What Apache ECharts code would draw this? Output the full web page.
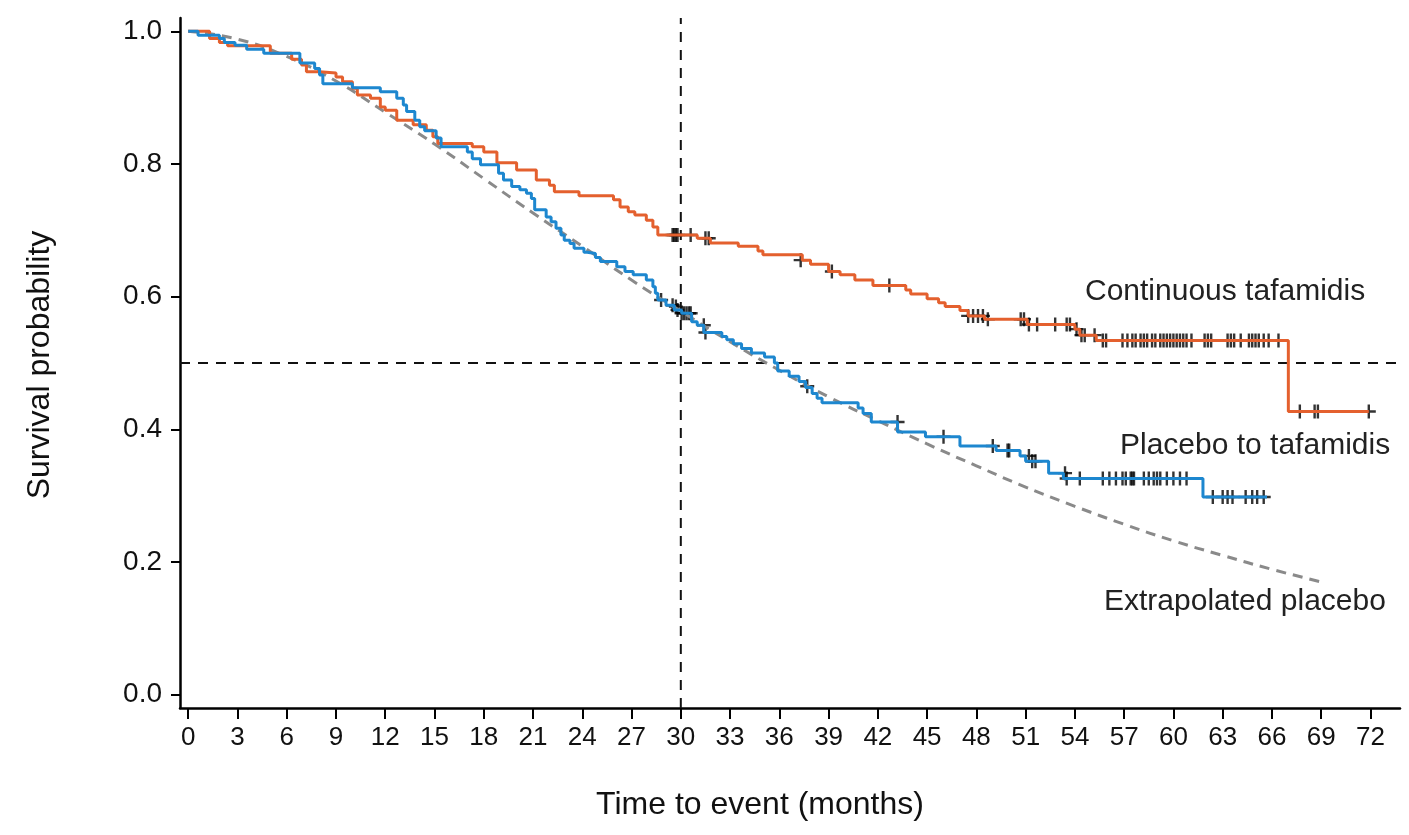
<!DOCTYPE html>
<html>
<head>
<meta charset="utf-8">
<title>Survival probability</title>
<script src="https://cdn.jsdelivr.net/npm/echarts@6/dist/echarts.min.js"></script>
<style>
  html, body { margin: 0; padding: 0; background: #fff; }
  #chart { width: 1409px; height: 835px; }
</style>
</head>
<body>
<div id="chart"></div>
<script>
// tick labels
const timeTicks = [0, 3, 6, 9, 12, 15, 18, 21, 24, 27, 30, 33, 36, 39, 42, 45, 48, 51, 54, 57, 60, 63, 66, 69, 72]
const probTicks = [0, 0.2, 0.4, 0.6, 0.8, 1.0]

// Kaplan-Meier steps [months, survival after event]
const continuousSteps = [
  [0, 1.0], [1.3, 0.989], [1.9, 0.983], [2.4, 0.978], [5.0, 0.967], [6.3, 0.958], [6.9, 0.949],
  [7.2, 0.939], [8.0, 0.937], [9.0, 0.931], [9.4, 0.924], [10.0, 0.914], [10.3, 0.904],
  [11.1, 0.899], [11.7, 0.886], [12.0, 0.881], [12.7, 0.866], [13.7, 0.859], [14.5, 0.851],
  [14.9, 0.841], [15.2, 0.831], [17.3, 0.826], [18.0, 0.818], [18.8, 0.802], [20.0, 0.791],
  [21.2, 0.776], [22.0, 0.768], [22.3, 0.758], [23.8, 0.752], [25.9, 0.746], [26.3, 0.735],
  [26.8, 0.728], [27.2, 0.723], [27.9, 0.715], [28.3, 0.705], [28.6, 0.693], [31.0, 0.688],
  [31.8, 0.681], [33.5, 0.676], [34.7, 0.669], [35.0, 0.663], [37.4, 0.655], [37.9, 0.649],
  [39.0, 0.638], [39.7, 0.633], [40.6, 0.625], [41.7, 0.617], [43.7, 0.610], [44.0, 0.604],
  [45.0, 0.597], [45.7, 0.591], [46.1, 0.585], [47.0, 0.579], [47.5, 0.571], [48.5, 0.566],
  [51.1, 0.558], [54.0, 0.551], [54.3, 0.542], [55.3, 0.534], [67.0, 0.427], [71.9, 0.427]
]
const placeboSteps = [
  [0, 1.0], [0.6, 0.994], [1.9, 0.989], [2.2, 0.983], [2.85, 0.979], [3.56, 0.973], [4.6, 0.967],
  [6.8, 0.952], [7.7, 0.944], [8.0, 0.934], [8.2, 0.921], [10.0, 0.915], [11.7, 0.909],
  [12.7, 0.899], [13.1, 0.889], [13.3, 0.879], [13.8, 0.866], [14.1, 0.856], [14.4, 0.850],
  [15.1, 0.839], [15.4, 0.826], [17.0, 0.818], [17.3, 0.808], [17.8, 0.799], [18.9, 0.786],
  [19.2, 0.776], [19.7, 0.766], [20.2, 0.761], [20.6, 0.756], [20.9, 0.748], [21.1, 0.731],
  [21.8, 0.720], [22.1, 0.713], [22.4, 0.703], [22.7, 0.693], [22.9, 0.685], [23.25, 0.680],
  [23.5, 0.673], [24.1, 0.667], [24.3, 0.665], [24.8, 0.659], [25.1, 0.653], [26.1, 0.645],
  [26.6, 0.638], [27.1, 0.633], [27.9, 0.625], [28.3, 0.615], [28.45, 0.605], [28.6, 0.595],
  [29.1, 0.587], [29.6, 0.580], [30.05, 0.575], [30.66, 0.562], [31.0, 0.557], [31.4, 0.546],
  [32.5, 0.540], [32.8, 0.535], [33.2, 0.529], [33.7, 0.522], [34.3, 0.515], [35.1, 0.509],
  [35.7, 0.500], [35.9, 0.488], [36.6, 0.480], [37.2, 0.472], [37.6, 0.463], [38.0, 0.454],
  [38.3, 0.447], [38.6, 0.440], [40.8, 0.432], [41.1, 0.424], [41.6, 0.411], [43.2, 0.396],
  [44.9, 0.389], [47.0, 0.375], [49.2, 0.368], [50.66, 0.360], [51.0, 0.352], [52.4, 0.334],
  [53.3, 0.326], [61.8, 0.298], [65.7, 0.298]
]

// censored observations
const continuousCensored = [
  [29.5, 0.693], [29.6, 0.693], [29.7, 0.693], [29.8, 0.693], [30.6, 0.693], [31.5, 0.688],
  [31.7, 0.688], [37.3, 0.655], [39.2, 0.638], [42.7, 0.617], [47.5, 0.571], [47.8, 0.571],
  [48.1, 0.571], [48.4, 0.571], [48.7, 0.566], [50.7, 0.566], [50.9, 0.566], [51.2, 0.558],
  [51.7, 0.558], [52.8, 0.558], [53.5, 0.558], [53.7, 0.558], [54.1, 0.551], [54.4, 0.542],
  [54.6, 0.542], [55.2, 0.542], [55.7, 0.534], [55.9, 0.534], [56.9, 0.534], [57.2, 0.534],
  [57.5, 0.534], [57.7, 0.534], [58.0, 0.534], [58.2, 0.534], [58.4, 0.534], [58.7, 0.534],
  [58.9, 0.534], [59.2, 0.534], [59.4, 0.534], [59.6, 0.534], [59.8, 0.534], [60.0, 0.534],
  [60.2, 0.534], [60.4, 0.534], [60.6, 0.534], [60.8, 0.534], [61.1, 0.534], [61.9, 0.534],
  [62.1, 0.534], [62.3, 0.534], [63.3, 0.534], [63.5, 0.534], [63.7, 0.534], [64.1, 0.534],
  [64.6, 0.534], [64.8, 0.534], [65.0, 0.534], [65.2, 0.534], [65.5, 0.534], [65.8, 0.534],
  [66.4, 0.534], [67.7, 0.427], [68.6, 0.427], [68.8, 0.427], [71.9, 0.427]
]
const placeboCensored = [
  [28.8, 0.595], [29.5, 0.587], [29.7, 0.585], [29.8, 0.580], [30.05, 0.575], [30.2, 0.575],
  [30.35, 0.575], [30.5, 0.575], [30.6, 0.575], [31.4, 0.557], [31.5, 0.546], [37.7, 0.465],
  [43.2, 0.411], [46.0, 0.389], [49.0, 0.375], [49.9, 0.368], [50.0, 0.368], [51.2, 0.360],
  [51.4, 0.352], [51.6, 0.352], [53.4, 0.334], [53.5, 0.326], [54.3, 0.326], [55.7, 0.326],
  [56.1, 0.326], [56.5, 0.326], [56.9, 0.326], [57.1, 0.326], [57.4, 0.326], [57.5, 0.326],
  [57.6, 0.326], [58.2, 0.326], [58.5, 0.326], [58.8, 0.326], [59.0, 0.326], [59.2, 0.326],
  [59.6, 0.326], [60.0, 0.326], [60.4, 0.326], [60.8, 0.326], [62.4, 0.298], [63.0, 0.298],
  [63.3, 0.298], [63.6, 0.298], [64.4, 0.298], [64.8, 0.298], [65.1, 0.298], [65.5, 0.298]
]

// extrapolated placebo curve, read every 3 months
const extrapolated = [
  [0, 1.0], [3, 0.988], [6, 0.962], [9, 0.925], [12, 0.878], [15, 0.830], [18, 0.778],
  [21, 0.726], [24, 0.676], [27, 0.625], [30, 0.578], [33, 0.532], [36, 0.489], [39, 0.449],
  [42, 0.413], [45, 0.378], [48, 0.345], [51, 0.313], [54, 0.284], [57, 0.257], [60, 0.232],
  [63, 0.210], [66, 0.189], [69, 0.170]
]

const medianLevel = 0.5
const landmarkTime = 30

const FONT = '"Liberation Sans", Arial, Helvetica, sans-serif'
const ORANGE = '#e4602e'
const BLUE = '#1d87cf'
const CROSS = 'path://M-1.2,-7H1.2V-1.2H7V1.2H1.2V7H-1.2V1.2H-7V-1.2H-1.2Z'

const chart = echarts.init(document.getElementById('chart'), null, { renderer: 'canvas' })

chart.setOption({
  animation: false,
  backgroundColor: '#fff',
  grid: { left: 180, right: 9, top: 18, bottom: 127 },
  xAxis: {
    type: 'value',
    min: -0.5,
    max: 73.8,
    axisLine: { onZero: false, lineStyle: { color: '#000', width: 2.5 } },
    axisTick: { customValues: timeTicks, length: 11, lineStyle: { color: '#000', width: 2 } },
    axisLabel: { customValues: timeTicks, color: '#111', fontSize: 26, fontFamily: FONT, margin: 17 },
    splitLine: { show: false }
  },
  yAxis: {
    type: 'value',
    min: -0.02,
    max: 1.02,
    axisLine: { show: true, onZero: false, lineStyle: { color: '#000', width: 2.5 } },
    axisTick: { show: true, customValues: probTicks, length: 9, lineStyle: { color: '#000', width: 2 } },
    axisLabel: {
      customValues: probTicks, color: '#111', fontSize: 28, fontFamily: FONT, margin: 18,
      formatter: v => v.toFixed(1)
    },
    splitLine: { show: false }
  },
  graphic: [
    { type: 'text', x: 760, y: 805, style: { text: 'Time to event (months)', font: '32px ' + FONT, fill: '#111', align: 'center', verticalAlign: 'middle' } },
    { type: 'text', x: 40, y: 365, rotation: Math.PI / 2, style: { text: 'Survival probability', font: '32px ' + FONT, fill: '#111', align: 'center', verticalAlign: 'middle' } },
    { type: 'text', x: 1085, y: 292, style: { text: 'Continuous tafamidis', font: '30px ' + FONT, fill: '#222', verticalAlign: 'middle' } },
    { type: 'text', x: 1120, y: 446, style: { text: 'Placebo to tafamidis', font: '30px ' + FONT, fill: '#222', verticalAlign: 'middle' } },
    { type: 'text', x: 1104, y: 602, style: { text: 'Extrapolated placebo', font: '30px ' + FONT, fill: '#222', verticalAlign: 'middle' } }
  ],
  series: [
    {
      type: 'line', data: [[-0.5, medianLevel], [73.8, medianLevel]], symbol: 'none', silent: true,
      lineStyle: { color: '#111', width: 2, type: [10, 8] }
    },
    {
      type: 'line', data: [[landmarkTime, -0.02], [landmarkTime, 1.02]], symbol: 'none', silent: true,
      lineStyle: { color: '#111', width: 2, type: [10, 8] }
    },
    {
      name: 'Extrapolated placebo', type: 'line', data: extrapolated, smooth: true, symbol: 'none',
      lineStyle: { color: '#8a8a8a', width: 3, type: [10, 7] }
    },
    {
      name: 'Continuous tafamidis', type: 'line', step: 'end', data: continuousSteps, symbol: 'none',
      lineStyle: { color: ORANGE, width: 3 }
    },
    {
      name: 'Placebo to tafamidis', type: 'line', step: 'end', data: placeboSteps, symbol: 'none',
      lineStyle: { color: BLUE, width: 3 }
    },
    {
      type: 'scatter', data: continuousCensored, symbol: CROSS, symbolSize: 14,
      itemStyle: { color: '#000' }
    },
    {
      type: 'scatter', data: placeboCensored, symbol: CROSS, symbolSize: 14,
      itemStyle: { color: '#000' }
    }
  ]
})
</script>
</body>
</html>
